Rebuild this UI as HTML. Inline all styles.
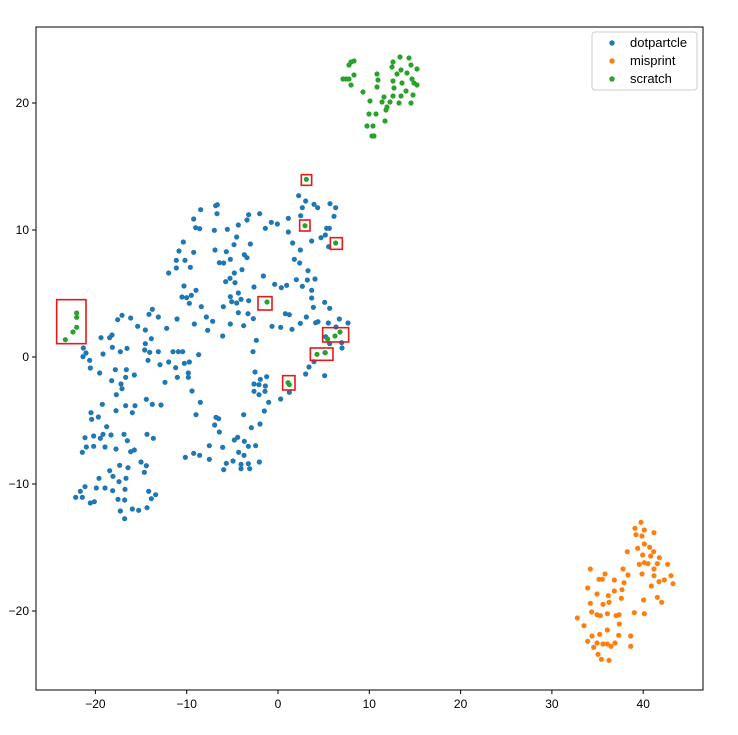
<!DOCTYPE html>
<html><head><meta charset="utf-8"><style>body{margin:0;background:#fff}svg{display:block;font-family:"Liberation Sans","DejaVu Sans",sans-serif}</style></head>
<body>
<svg id="s" width="738" height="735" xmlns="http://www.w3.org/2000/svg">
<rect width="738" height="735" fill="#fff"/>
<g id="pts"></g>
<g id="boxes" fill="none" stroke="#e31a1c" stroke-width="1.6"></g>
<rect x="36" y="27" width="667" height="663" fill="none" stroke="#000" stroke-width="1"/>
<g id="ticks" stroke="#000" stroke-width="1"></g>
<g id="labels" font-size="12" fill="#000"></g>
<rect x="592" y="32" width="105" height="58" rx="3" fill="#fff" fill-opacity="0.85" stroke="#ccc"/>
<circle cx="612" cy="43" r="2.7" fill="#1f77b4"/><text x="630" y="47" font-size="13">dotpartcle</text>
<circle cx="612" cy="61" r="2.7" fill="#ff7f0e"/><text x="630" y="65" font-size="13">misprint</text>
<circle cx="612" cy="79" r="2.7" fill="#2ca02c"/><text x="630" y="83" font-size="13">scratch</text>
</svg>
<script>
var NS="http://www.w3.org/2000/svg";
function el(p,t,a){var e=document.createElementNS(NS,t);for(var k in a)e.setAttribute(k,a[k]);p.appendChild(e);return e;}
var P=document.getElementById("pts");
var blue=[746,77,767,93,792,103,803,113,840,101,857,113,757,113,852,139,752,137,715,145,629,131,596,134,591,150,664,157,682,162,646,175,715,186,565,165,532,178,493,181,437,173,449,176,431,147,452,119,497,107,502,104,501,131,830,175,838,175,826,195,813,203,785,213,836,230,728,219,751,240,601,222,552,224,560,201,495,240,529,245,583,254,591,263,541,268,508,278,521,279,400,216,387,243,431,247,379,271,405,271,379,294,421,292,356,309,733,268,749,279,774,302,739,329,772,330,795,327,757,349,785,361,785,384,790,412,824,397,839,415,868,447,894,459,835,459,797,458,804,455,769,441,751,460,726,478,858,471,875,518,876,534,839,521,827,500,710,346,694,353,674,343,640,318,612,351,576,299,553,309,540,325,527,335,555,338,565,369,541,380,545,395,560,399,573,388,596,392,565,428,594,431,610,446,581,467,541,462,520,410,518,498,619,511,609,545,666,469,692,472,706,431,718,434,402,348,438,361,396,381,410,383,424,376,418,400,454,410,469,441,488,454,473,481,433,462,381,447,350,475,325,441,297,433,307,418,263,469,286,480,242,444,216,436,203,449,304,506,286,521,284,540,299,547,325,545,294,571,330,584,356,576,377,593,369,545,385,545,398,545,446,554,403,580,418,576,415,609,415,622,382,622,345,637,426,663,451,697,438,734,186,495,179,503,153,503,159,552,187,532,211,545,231,535,119,571,99,560,108,549,100,534,121,594,149,609,196,599,229,599,185,632,227,622,253,615,213,642,216,656,199,674,157,703,198,722,227,707,255,707,247,728,289,688,307,703,333,705,123,728,125,748,145,741,170,770,105,803,131,798,151,805,159,793,183,795,222,793,232,812,131,829,109,831,97,847,165,831,198,837,242,845,253,840,291,793,310,805,273,876,289,887,283,907,209,886,234,893,179,902,189,919,228,925,207,935,147,925,105,950,91,964,77,982,97,982,121,999,133,995,139,954,165,954,188,962,225,958,204,988,224,990,296,964,317,974,304,986,211,1023,247,1017,266,1021,291,1013,224,1046,615,606,650,620,631,628,612,642,627,644,646,648,612,664,627,674,645,664,656,697,643,723,630,762,604,773,581,734,498,742,506,746,494,765,508,786,478,827,518,832,553,810,563,802,583,814,595,829,617,827,566,847,582,856,549,873,529,880,521,899,573,883,573,896,595,881,599,896,628,876,406,862,431,850,449,856,478,868,692,687,718,667,767,612,777,591,824,617,792,575,825,548];
for(var i=0;i<blue.length;i+=2)el(P,"circle",{cx:50+blue[i]/3,cy:170+blue[i+1]/3,r:2.6,fill:"#1f77b4"});
var org=[363,37,345,55,373,60,348,74,366,78,402,68,373,102,353,115,389,112,401,125,322,125,368,135,392,138,418,143,358,163,373,158,384,161,412,161,443,163,402,177,309,177,366,192,402,197,453,197,433,210,417,215,459,221,394,228,324,195,211,177,255,192,237,208,247,208,283,210,312,218,203,234,231,252,265,257,283,243,306,239,249,283,267,277,304,265,371,270,412,262,425,277,211,280,215,306,231,314,241,317,262,311,288,317,297,314,343,308,373,311,172,324,298,342,192,347,262,360,216,378,239,373,296,376,332,378,203,394,231,399,249,402,262,402,285,399,221,412,273,409,332,409,234,433,244,448,267,451];
for(var i=0;i<org.length;i+=2)el(P,"circle",{cx:520+org[i]/3,cy:510+org[i+1]/3,r:2.6,fill:"#ff7f0e"});
var gt=[351,62,349,65,354,61,346,79,343,79,349,79,354,75,351,85,363,92,377,74,378,80,370,101,377,87,384,97,382,102,387,107,369,114,376,114,385,121,374,136,373,126,367,126,372,136,392,67,393,62,400,57,409,58,401,70,397,74,407,73,411,65,417,69,412,79,393,81,402,83,414,83,406,91,394,88,401,96,413,95,393,96,411,103,399,103,390,102,386,110,417,85];
for(var i=0;i<gt.length;i+=2)el(P,"circle",{cx:gt[i],cy:gt[i+1],r:2.6,fill:"#2ca02c"});
var gz=[769,28,765,167,857,219,651,396,80,429,80,442,80,472,69,486,46,509,833,507,855,498,870,486,801,553,826,548,714,638,718,644];
for(var i=0;i<gz.length;i+=2)el(P,"circle",{cx:50+gz[i]/3,cy:170+gz[i+1]/3,r:2.6,fill:"#2ca02c"});
var B=document.getElementById("boxes");
var rz=[754,14,31,32,749,150,31,33,841,203,36,35,624,380,42,40,20,389,88,132,818,473,78,43,781,534,68,37,698,617,37,43];
for(var i=0;i<rz.length;i+=4)el(B,"rect",{x:50+rz[i]/3,y:170+rz[i+1]/3,width:rz[i+2]/3,height:rz[i+3]/3});
var T=document.getElementById("ticks"),L=document.getElementById("labels");
[-20,-10,0,10,20,30,40].forEach(function(v){var x=278+v*9.13;el(T,"line",{x1:x,y1:690,x2:x,y2:694});var t=el(L,"text",{x:x,y:708,"text-anchor":"middle"});t.textContent=(v<0?"\u2212"+(-v):v);});
[20,10,0,-10,-20].forEach(function(v){var y=357-v*12.7;el(T,"line",{x1:32,y1:y,x2:36,y2:y});var t=el(L,"text",{x:29,y:y+4,"text-anchor":"end"});t.textContent=(v<0?"\u2212"+(-v):v);});
</script>
</body></html>
